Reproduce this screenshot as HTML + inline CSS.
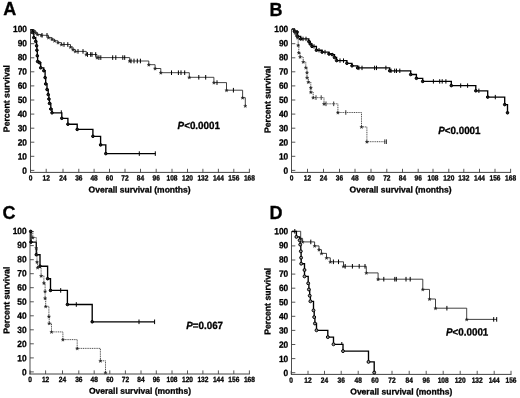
<!DOCTYPE html>
<html><head><meta charset="utf-8"><title>Survival curves</title>
<style>
html,body{margin:0;padding:0;background:#fff;}
svg{display:block;font-family:"Liberation Sans", sans-serif;fill:#000;}
text{stroke:#000;stroke-width:0.3px;}
</style></head>
<body>
<svg width="520" height="398" viewBox="0 0 520 398" font-family='"Liberation Sans", sans-serif'>
<defs><filter id="soft" x="0" y="0" width="520" height="398" filterUnits="userSpaceOnUse"><feGaussianBlur stdDeviation="0.42"/></filter></defs>
<rect x="0" y="0" width="520" height="398" fill="#fff"/>
<g filter="url(#soft)">
<text x="3.2" y="14.8" font-size="18" font-weight="bold">A</text><path d="M30.5,29.1V172.9" stroke="#444" stroke-width="0.95" fill="none"/><path d="M30.0,172.4H249.9" stroke="#444" stroke-width="1.0" fill="none"/><text transform="translate(27.00,173.75) rotate(0.1) scale(0.93,1)" text-anchor="end" font-size="9" font-weight="bold">0</text><text transform="translate(27.00,159.50) rotate(0.1) scale(0.93,1)" text-anchor="end" font-size="9" font-weight="bold">10</text><text transform="translate(27.00,145.50) rotate(0.1) scale(0.93,1)" text-anchor="end" font-size="9" font-weight="bold">20</text><text transform="translate(27.00,131.25) rotate(0.1) scale(0.93,1)" text-anchor="end" font-size="9" font-weight="bold">30</text><text transform="translate(27.00,117.00) rotate(0.1) scale(0.93,1)" text-anchor="end" font-size="9" font-weight="bold">40</text><text transform="translate(27.00,103.00) rotate(0.1) scale(0.93,1)" text-anchor="end" font-size="9" font-weight="bold">50</text><text transform="translate(27.00,88.75) rotate(0.1) scale(0.93,1)" text-anchor="end" font-size="9" font-weight="bold">60</text><text transform="translate(27.00,74.50) rotate(0.1) scale(0.93,1)" text-anchor="end" font-size="9" font-weight="bold">70</text><text transform="translate(27.00,60.25) rotate(0.1) scale(0.93,1)" text-anchor="end" font-size="9" font-weight="bold">80</text><text transform="translate(27.00,46.25) rotate(0.1) scale(0.93,1)" text-anchor="end" font-size="9" font-weight="bold">90</text><text transform="translate(27.00,32.00) rotate(0.1) scale(0.93,1)" text-anchor="end" font-size="9" font-weight="bold">100</text><text transform="translate(30.5,180.50) rotate(0.1) scale(0.87,1)" text-anchor="middle" font-size="7.6" font-weight="bold">0</text><text transform="translate(46.2,180.50) rotate(0.1) scale(0.87,1)" text-anchor="middle" font-size="7.6" font-weight="bold">12</text><text transform="translate(63.0,180.50) rotate(0.1) scale(0.87,1)" text-anchor="middle" font-size="7.6" font-weight="bold">24</text><text transform="translate(78.8,180.50) rotate(0.1) scale(0.87,1)" text-anchor="middle" font-size="7.6" font-weight="bold">36</text><text transform="translate(94.1,180.50) rotate(0.1) scale(0.87,1)" text-anchor="middle" font-size="7.6" font-weight="bold">48</text><text transform="translate(109.5,180.50) rotate(0.1) scale(0.87,1)" text-anchor="middle" font-size="7.6" font-weight="bold">60</text><text transform="translate(125.0,180.50) rotate(0.1) scale(0.87,1)" text-anchor="middle" font-size="7.6" font-weight="bold">72</text><text transform="translate(140.5,180.50) rotate(0.1) scale(0.87,1)" text-anchor="middle" font-size="7.6" font-weight="bold">84</text><text transform="translate(156.2,180.50) rotate(0.1) scale(0.87,1)" text-anchor="middle" font-size="7.6" font-weight="bold">96</text><text transform="translate(172.0,180.50) rotate(0.1) scale(0.87,1)" text-anchor="middle" font-size="7.6" font-weight="bold">108</text><text transform="translate(187.5,180.50) rotate(0.1) scale(0.87,1)" text-anchor="middle" font-size="7.6" font-weight="bold">120</text><text transform="translate(202.9,180.50) rotate(0.1) scale(0.87,1)" text-anchor="middle" font-size="7.6" font-weight="bold">132</text><text transform="translate(218.4,180.50) rotate(0.1) scale(0.87,1)" text-anchor="middle" font-size="7.6" font-weight="bold">144</text><text transform="translate(233.8,180.50) rotate(0.1) scale(0.87,1)" text-anchor="middle" font-size="7.6" font-weight="bold">156</text><text transform="translate(249.4,180.50) rotate(0.1) scale(0.87,1)" text-anchor="middle" font-size="7.6" font-weight="bold">168</text><path d="M30.5,170.4h3.8M30.5,156.3h3.8M30.5,142.2h3.8M30.5,128.2h3.8M30.5,114.1h3.8M30.5,100.0h3.8M30.5,85.9h3.8M30.5,71.8h3.8M30.5,57.8h3.8M30.5,43.7h3.8M30.5,29.6h3.8M30.5,172.4v-3.6M46.2,172.4v-3.6M63.0,172.4v-3.6M78.8,172.4v-3.6M94.1,172.4v-3.6M109.5,172.4v-3.6M125.0,172.4v-3.6M140.5,172.4v-3.6M156.2,172.4v-3.6M172.0,172.4v-3.6M187.5,172.4v-3.6M202.9,172.4v-3.6M218.4,172.4v-3.6M233.8,172.4v-3.6M249.4,172.4v-3.6" stroke="#444" stroke-width="0.9" fill="none"/><text transform="translate(139.6,192.50) rotate(0.1)" text-anchor="middle" font-size="8.5" font-weight="bold">Overall survival (months)</text><text transform="translate(9.5,98.6) rotate(-89.9)" text-anchor="middle" font-size="8.7" font-weight="bold">Percent survival</text><path d="M30.7,29.8H33.8V30.9H35.8V32.8H37.6V34.5H41.4V35.3H48.5V37.6H52.0V39.2H54.6V40.8H58.0V42.6H61.5V44.5H70.5V47.0H73.0V49.5H75.3V51.4H86.3V54.5H97.0V57.6H129.7V61.0H148.8V64.7H155.1V68.5H160.8V72.7H189.3V77.3H213.9V82.6H226.5V90.2H242.6V97.7H245.3V105.9" stroke="#222" stroke-width="0.85" fill="none"/><path d="M42.0,33.0V37.6M47.0,33.0V37.6M64.0,42.2V46.8M67.8,42.2V46.8M78.0,49.1V53.7M83.0,49.1V53.7M87.5,52.2V56.8M90.7,52.2V56.8M92.0,52.2V56.8M95.7,52.2V56.8M98.9,55.3V59.9M100.8,55.3V59.9M112.7,55.3V59.9M115.8,55.3V59.9M122.8,55.3V59.9M124.7,55.3V59.9M131.0,58.7V63.3M134.0,58.7V63.3M137.3,58.7V63.3M140.4,58.7V63.3M171.5,70.4V75.0M178.4,70.4V75.0M181.0,70.4V75.0M184.7,70.4V75.0M198.8,75.0V79.6M205.7,75.0V79.6M217.0,80.3V84.9M233.4,87.9V92.5" stroke="#000" stroke-width="1.0" fill="none"/><path d="M33.80,29.30L34.24,30.49L35.51,30.54L34.52,31.33L34.86,32.56L33.80,31.86L32.74,32.56L33.08,31.33L32.09,30.54L33.36,30.49ZM35.80,31.20L36.24,32.39L37.51,32.44L36.52,33.23L36.86,34.46L35.80,33.76L34.74,34.46L35.08,33.23L34.09,32.44L35.36,32.39ZM37.60,32.90L38.04,34.09L39.31,34.14L38.32,34.93L38.66,36.16L37.60,35.46L36.54,36.16L36.88,34.93L35.89,34.14L37.16,34.09ZM41.40,33.70L41.84,34.89L43.11,34.94L42.12,35.73L42.46,36.96L41.40,36.26L40.34,36.96L40.68,35.73L39.69,34.94L40.96,34.89ZM48.50,36.00L48.94,37.19L50.21,37.24L49.22,38.03L49.56,39.26L48.50,38.56L47.44,39.26L47.78,38.03L46.79,37.24L48.06,37.19ZM52.00,37.60L52.44,38.79L53.71,38.84L52.72,39.63L53.06,40.86L52.00,40.16L50.94,40.86L51.28,39.63L50.29,38.84L51.56,38.79ZM54.60,39.20L55.04,40.39L56.31,40.44L55.32,41.23L55.66,42.46L54.60,41.76L53.54,42.46L53.88,41.23L52.89,40.44L54.16,40.39ZM58.00,41.00L58.44,42.19L59.71,42.24L58.72,43.03L59.06,44.26L58.00,43.56L56.94,44.26L57.28,43.03L56.29,42.24L57.56,42.19ZM61.50,42.90L61.94,44.09L63.21,44.14L62.22,44.93L62.56,46.16L61.50,45.46L60.44,46.16L60.78,44.93L59.79,44.14L61.06,44.09ZM70.50,45.40L70.94,46.59L72.21,46.64L71.22,47.43L71.56,48.66L70.50,47.96L69.44,48.66L69.78,47.43L68.79,46.64L70.06,46.59ZM73.00,47.90L73.44,49.09L74.71,49.14L73.72,49.93L74.06,51.16L73.00,50.46L71.94,51.16L72.28,49.93L71.29,49.14L72.56,49.09ZM75.30,49.80L75.74,50.99L77.01,51.04L76.02,51.83L76.36,53.06L75.30,52.36L74.24,53.06L74.58,51.83L73.59,51.04L74.86,50.99ZM86.30,52.90L86.74,54.09L88.01,54.14L87.02,54.93L87.36,56.16L86.30,55.46L85.24,56.16L85.58,54.93L84.59,54.14L85.86,54.09ZM97.00,56.00L97.44,57.19L98.71,57.24L97.72,58.03L98.06,59.26L97.00,58.56L95.94,59.26L96.28,58.03L95.29,57.24L96.56,57.19ZM129.70,59.40L130.14,60.59L131.41,60.64L130.42,61.43L130.76,62.66L129.70,61.96L128.64,62.66L128.98,61.43L127.99,60.64L129.26,60.59ZM148.80,63.10L149.24,64.29L150.51,64.34L149.52,65.13L149.86,66.36L148.80,65.66L147.74,66.36L148.08,65.13L147.09,64.34L148.36,64.29ZM155.10,66.90L155.54,68.09L156.81,68.14L155.82,68.93L156.16,70.16L155.10,69.46L154.04,70.16L154.38,68.93L153.39,68.14L154.66,68.09ZM160.80,71.10L161.24,72.29L162.51,72.34L161.52,73.13L161.86,74.36L160.80,73.66L159.74,74.36L160.08,73.13L159.09,72.34L160.36,72.29ZM189.30,75.70L189.74,76.89L191.01,76.94L190.02,77.73L190.36,78.96L189.30,78.26L188.24,78.96L188.58,77.73L187.59,76.94L188.86,76.89ZM213.90,81.00L214.34,82.19L215.61,82.24L214.62,83.03L214.96,84.26L213.90,83.56L212.84,84.26L213.18,83.03L212.19,82.24L213.46,82.19ZM226.50,88.60L226.94,89.79L228.21,89.84L227.22,90.63L227.56,91.86L226.50,91.16L225.44,91.86L225.78,90.63L224.79,89.84L226.06,89.79ZM242.60,96.10L243.04,97.29L244.31,97.34L243.32,98.13L243.66,99.36L242.60,98.66L241.54,99.36L241.88,98.13L240.89,97.34L242.16,97.29ZM245.30,104.30L245.74,105.49L247.01,105.54L246.02,106.33L246.36,107.56L245.30,106.86L244.24,107.56L244.58,106.33L243.59,105.54L244.86,105.49Z" fill="#222" stroke="#222" stroke-width="0.3"/><path d="M30.7,29.8H32.5V32.5H33.8V37.6H35.7V41.4H36.6V45.8H36.9V50.2H37.3V55.8H37.6V61.5H39.5V62.7H40.7V67.8H43.8V70.7H45.1V77.6H45.7V83.9H47.0V89.5H48.2V94.6H48.9V99.0H49.5V103.4H50.8V109.0H52.0V112.8H61.8V118.3H67.9V124.2H77.2V129.4H92.9V136.3H100.6V144.9H105.8V153.6H155.5V153.6" stroke="#000" stroke-width="1.35" fill="none" stroke-linejoin="miter"/><path d="M139.3,151.3V155.9M155.3,151.3V155.9" stroke="#000" stroke-width="1.0" fill="none"/><path d="M61.3,110.3V113" stroke="#000" stroke-width="1"/><circle cx="32.5" cy="32.5" r="1.3" fill="#222" stroke="#000" stroke-width="1"/><circle cx="33.8" cy="37.6" r="1.3" fill="#222" stroke="#000" stroke-width="1"/><circle cx="35.7" cy="41.4" r="1.3" fill="#222" stroke="#000" stroke-width="1"/><circle cx="36.6" cy="45.8" r="1.3" fill="#222" stroke="#000" stroke-width="1"/><circle cx="36.9" cy="50.2" r="1.3" fill="#222" stroke="#000" stroke-width="1"/><circle cx="37.3" cy="55.8" r="1.3" fill="#222" stroke="#000" stroke-width="1"/><circle cx="37.6" cy="61.5" r="1.3" fill="#222" stroke="#000" stroke-width="1"/><circle cx="39.5" cy="62.7" r="1.3" fill="#222" stroke="#000" stroke-width="1"/><circle cx="40.7" cy="67.8" r="1.3" fill="#222" stroke="#000" stroke-width="1"/><circle cx="43.8" cy="70.7" r="1.3" fill="#222" stroke="#000" stroke-width="1"/><circle cx="45.1" cy="77.6" r="1.3" fill="#222" stroke="#000" stroke-width="1"/><circle cx="45.7" cy="83.9" r="1.3" fill="#222" stroke="#000" stroke-width="1"/><circle cx="47.0" cy="89.5" r="1.3" fill="#222" stroke="#000" stroke-width="1"/><circle cx="48.2" cy="94.6" r="1.3" fill="#222" stroke="#000" stroke-width="1"/><circle cx="48.9" cy="99.0" r="1.3" fill="#222" stroke="#000" stroke-width="1"/><circle cx="49.5" cy="103.4" r="1.3" fill="#222" stroke="#000" stroke-width="1"/><circle cx="50.8" cy="109.0" r="1.3" fill="#222" stroke="#000" stroke-width="1"/><circle cx="52.0" cy="112.8" r="1.3" fill="#222" stroke="#000" stroke-width="1"/><circle cx="61.8" cy="118.3" r="1.3" fill="#222" stroke="#000" stroke-width="1"/><circle cx="67.9" cy="124.2" r="1.3" fill="#222" stroke="#000" stroke-width="1"/><circle cx="77.2" cy="129.4" r="1.3" fill="#222" stroke="#000" stroke-width="1"/><circle cx="92.9" cy="136.3" r="1.3" fill="#222" stroke="#000" stroke-width="1"/><circle cx="100.6" cy="144.9" r="1.3" fill="#222" stroke="#000" stroke-width="1"/><circle cx="105.8" cy="153.6" r="1.3" fill="#222" stroke="#000" stroke-width="1"/><text transform="translate(177.6,129.0) rotate(0.1) scale(0.945,1)" font-size="10.4" font-weight="bold"><tspan font-style="italic">P</tspan>&lt;0.0001</text><text x="269.4" y="16.1" font-size="18" font-weight="bold">B</text><path d="M291.5,29.1V172.9" stroke="#444" stroke-width="0.95" fill="none"/><path d="M291.0,172.4H511.1" stroke="#444" stroke-width="1.0" fill="none"/><text transform="translate(288.25,173.75) rotate(0.1) scale(0.93,1)" text-anchor="end" font-size="9" font-weight="bold">0</text><text transform="translate(288.25,159.50) rotate(0.1) scale(0.93,1)" text-anchor="end" font-size="9" font-weight="bold">10</text><text transform="translate(288.25,145.50) rotate(0.1) scale(0.93,1)" text-anchor="end" font-size="9" font-weight="bold">20</text><text transform="translate(288.25,131.25) rotate(0.1) scale(0.93,1)" text-anchor="end" font-size="9" font-weight="bold">30</text><text transform="translate(288.25,117.00) rotate(0.1) scale(0.93,1)" text-anchor="end" font-size="9" font-weight="bold">40</text><text transform="translate(288.25,103.00) rotate(0.1) scale(0.93,1)" text-anchor="end" font-size="9" font-weight="bold">50</text><text transform="translate(288.25,88.75) rotate(0.1) scale(0.93,1)" text-anchor="end" font-size="9" font-weight="bold">60</text><text transform="translate(288.25,74.50) rotate(0.1) scale(0.93,1)" text-anchor="end" font-size="9" font-weight="bold">70</text><text transform="translate(288.25,60.25) rotate(0.1) scale(0.93,1)" text-anchor="end" font-size="9" font-weight="bold">80</text><text transform="translate(288.25,46.25) rotate(0.1) scale(0.93,1)" text-anchor="end" font-size="9" font-weight="bold">90</text><text transform="translate(288.25,32.00) rotate(0.1) scale(0.93,1)" text-anchor="end" font-size="9" font-weight="bold">100</text><text transform="translate(291.5,180.50) rotate(0.1) scale(0.87,1)" text-anchor="middle" font-size="7.6" font-weight="bold">0</text><text transform="translate(307.5,180.50) rotate(0.1) scale(0.87,1)" text-anchor="middle" font-size="7.6" font-weight="bold">12</text><text transform="translate(323.5,180.50) rotate(0.1) scale(0.87,1)" text-anchor="middle" font-size="7.6" font-weight="bold">24</text><text transform="translate(339.5,180.50) rotate(0.1) scale(0.87,1)" text-anchor="middle" font-size="7.6" font-weight="bold">36</text><text transform="translate(355.0,180.50) rotate(0.1) scale(0.87,1)" text-anchor="middle" font-size="7.6" font-weight="bold">48</text><text transform="translate(371.0,180.50) rotate(0.1) scale(0.87,1)" text-anchor="middle" font-size="7.6" font-weight="bold">60</text><text transform="translate(386.8,180.50) rotate(0.1) scale(0.87,1)" text-anchor="middle" font-size="7.6" font-weight="bold">72</text><text transform="translate(402.5,180.50) rotate(0.1) scale(0.87,1)" text-anchor="middle" font-size="7.6" font-weight="bold">84</text><text transform="translate(418.2,180.50) rotate(0.1) scale(0.87,1)" text-anchor="middle" font-size="7.6" font-weight="bold">96</text><text transform="translate(433.0,180.50) rotate(0.1) scale(0.87,1)" text-anchor="middle" font-size="7.6" font-weight="bold">108</text><text transform="translate(448.8,180.50) rotate(0.1) scale(0.87,1)" text-anchor="middle" font-size="7.6" font-weight="bold">120</text><text transform="translate(463.8,180.50) rotate(0.1) scale(0.87,1)" text-anchor="middle" font-size="7.6" font-weight="bold">132</text><text transform="translate(479.5,180.50) rotate(0.1) scale(0.87,1)" text-anchor="middle" font-size="7.6" font-weight="bold">144</text><text transform="translate(495.0,180.50) rotate(0.1) scale(0.87,1)" text-anchor="middle" font-size="7.6" font-weight="bold">156</text><text transform="translate(510.6,180.50) rotate(0.1) scale(0.87,1)" text-anchor="middle" font-size="7.6" font-weight="bold">168</text><path d="M291.5,170.4h3.8M291.5,156.3h3.8M291.5,142.2h3.8M291.5,128.2h3.8M291.5,114.1h3.8M291.5,100.0h3.8M291.5,85.9h3.8M291.5,71.8h3.8M291.5,57.8h3.8M291.5,43.7h3.8M291.5,29.6h3.8M291.5,172.4v-3.6M307.5,172.4v-3.6M323.5,172.4v-3.6M339.5,172.4v-3.6M355.0,172.4v-3.6M371.0,172.4v-3.6M386.8,172.4v-3.6M402.5,172.4v-3.6M418.2,172.4v-3.6M433.0,172.4v-3.6M448.8,172.4v-3.6M463.8,172.4v-3.6M479.5,172.4v-3.6M495.0,172.4v-3.6M510.6,172.4v-3.6" stroke="#444" stroke-width="0.9" fill="none"/><text transform="translate(400.6,192.50) rotate(0.1)" text-anchor="middle" font-size="8.5" font-weight="bold">Overall survival (months)</text><text transform="translate(270.5,99.5) rotate(-89.9)" text-anchor="middle" font-size="8.7" font-weight="bold">Percent survival</text><path d="M291.9,28.8H294.4V31.3H297.0V32.0H297.6V36.4H300.7V38.9H308.8V41.5H310.2V43.9H312.0V46.4H316.4V50.2H322.1V52.1H329.0V54.0H332.2V54.6H334.5V57.5H336.6V60.6H346.9V63.3H352.0V65.8H357.6V67.9H389.7V70.8H410.7V74.5H416.4V78.3H422.7V81.4H451.3V85.6H475.8V90.8H487.7V97.1H504.7V104.6H507.5V112.8" stroke="#000" stroke-width="1.35" fill="none"/><path d="M303.0,36.7V41.1M306.0,36.7V41.1M314.0,44.2V48.6M319.0,48.0V52.4M325.0,49.9V54.3M340.0,58.4V62.8M343.5,58.4V62.8M358.9,65.7V70.1M362.0,65.7V70.1M374.6,65.7V70.1M376.5,65.7V70.1M385.9,65.7V70.1M391.0,68.6V73.0M394.7,68.6V73.0M396.5,68.6V73.0M399.8,68.6V73.0M433.4,79.2V83.6M439.7,79.2V83.6M442.2,79.2V83.6M445.9,79.2V83.6M460.7,83.4V87.8M467.6,83.4V87.8M478.9,88.6V93.0M495.3,94.9V99.3" stroke="#000" stroke-width="1.0" fill="none"/><circle cx="294.4" cy="31.3" r="1.3" fill="#222" stroke="#000" stroke-width="1"/><circle cx="297.0" cy="32.0" r="1.3" fill="#222" stroke="#000" stroke-width="1"/><circle cx="297.6" cy="36.4" r="1.3" fill="#222" stroke="#000" stroke-width="1"/><circle cx="300.7" cy="38.9" r="1.3" fill="#222" stroke="#000" stroke-width="1"/><circle cx="308.8" cy="41.5" r="1.3" fill="#222" stroke="#000" stroke-width="1"/><circle cx="310.2" cy="43.9" r="1.3" fill="#222" stroke="#000" stroke-width="1"/><circle cx="312.0" cy="46.4" r="1.3" fill="#222" stroke="#000" stroke-width="1"/><circle cx="316.4" cy="50.2" r="1.3" fill="#222" stroke="#000" stroke-width="1"/><circle cx="322.1" cy="52.1" r="1.3" fill="#222" stroke="#000" stroke-width="1"/><circle cx="329.0" cy="54.0" r="1.3" fill="#222" stroke="#000" stroke-width="1"/><circle cx="332.2" cy="54.6" r="1.3" fill="#222" stroke="#000" stroke-width="1"/><circle cx="334.5" cy="57.5" r="1.3" fill="#222" stroke="#000" stroke-width="1"/><circle cx="336.6" cy="60.6" r="1.3" fill="#222" stroke="#000" stroke-width="1"/><circle cx="346.9" cy="63.3" r="1.3" fill="#222" stroke="#000" stroke-width="1"/><circle cx="352.0" cy="65.8" r="1.3" fill="#222" stroke="#000" stroke-width="1"/><circle cx="357.6" cy="67.9" r="1.3" fill="#222" stroke="#000" stroke-width="1"/><circle cx="389.7" cy="70.8" r="1.3" fill="#222" stroke="#000" stroke-width="1"/><circle cx="410.7" cy="74.5" r="1.3" fill="#222" stroke="#000" stroke-width="1"/><circle cx="416.4" cy="78.3" r="1.3" fill="#222" stroke="#000" stroke-width="1"/><circle cx="422.7" cy="81.4" r="1.3" fill="#222" stroke="#000" stroke-width="1"/><circle cx="451.3" cy="85.6" r="1.3" fill="#222" stroke="#000" stroke-width="1"/><circle cx="475.8" cy="90.8" r="1.3" fill="#222" stroke="#000" stroke-width="1"/><circle cx="487.7" cy="97.1" r="1.3" fill="#222" stroke="#000" stroke-width="1"/><circle cx="504.7" cy="104.6" r="1.3" fill="#222" stroke="#000" stroke-width="1"/><circle cx="507.5" cy="112.8" r="1.3" fill="#222" stroke="#000" stroke-width="1"/><path d="M291.9,28.8H295.0V32.6H296.3V35.0H297.6V37.6H298.2V45.2H298.8V52.7H300.1V56.9H303.2V61.9H305.8V67.6H307.0V72.6H307.0V77.6H308.3V82.0H310.8V87.7H310.8V92.1H313.2V97.6H324.0V103.8H337.9V112.5H361.5V126.9H366.9V141.7H386.2V141.7" stroke="#333" stroke-width="0.85" stroke-dasharray="1.1 0.7" fill="none"/><path d="M316.0,95.3V99.9M321.2,95.3V99.9M326.0,101.5V106.1M333.7,101.5V106.1M345.8,110.2V114.8M384.8,139.4V144.0M386.4,139.4V144.0" stroke="#333" stroke-width="1.0" fill="none"/><path d="M295.00,31.00L295.44,32.19L296.71,32.24L295.72,33.03L296.06,34.26L295.00,33.56L293.94,34.26L294.28,33.03L293.29,32.24L294.56,32.19ZM296.30,33.40L296.74,34.59L298.01,34.64L297.02,35.43L297.36,36.66L296.30,35.96L295.24,36.66L295.58,35.43L294.59,34.64L295.86,34.59ZM297.60,36.00L298.04,37.19L299.31,37.24L298.32,38.03L298.66,39.26L297.60,38.56L296.54,39.26L296.88,38.03L295.89,37.24L297.16,37.19ZM298.20,43.60L298.64,44.79L299.91,44.84L298.92,45.63L299.26,46.86L298.20,46.16L297.14,46.86L297.48,45.63L296.49,44.84L297.76,44.79ZM298.80,51.10L299.24,52.29L300.51,52.34L299.52,53.13L299.86,54.36L298.80,53.66L297.74,54.36L298.08,53.13L297.09,52.34L298.36,52.29ZM300.10,55.30L300.54,56.49L301.81,56.54L300.82,57.33L301.16,58.56L300.10,57.86L299.04,58.56L299.38,57.33L298.39,56.54L299.66,56.49ZM303.20,60.30L303.64,61.49L304.91,61.54L303.92,62.33L304.26,63.56L303.20,62.86L302.14,63.56L302.48,62.33L301.49,61.54L302.76,61.49ZM305.80,66.00L306.24,67.19L307.51,67.24L306.52,68.03L306.86,69.26L305.80,68.56L304.74,69.26L305.08,68.03L304.09,67.24L305.36,67.19ZM307.00,71.00L307.44,72.19L308.71,72.24L307.72,73.03L308.06,74.26L307.00,73.56L305.94,74.26L306.28,73.03L305.29,72.24L306.56,72.19ZM307.00,76.00L307.44,77.19L308.71,77.24L307.72,78.03L308.06,79.26L307.00,78.56L305.94,79.26L306.28,78.03L305.29,77.24L306.56,77.19ZM308.30,80.40L308.74,81.59L310.01,81.64L309.02,82.43L309.36,83.66L308.30,82.96L307.24,83.66L307.58,82.43L306.59,81.64L307.86,81.59ZM310.80,86.10L311.24,87.29L312.51,87.34L311.52,88.13L311.86,89.36L310.80,88.66L309.74,89.36L310.08,88.13L309.09,87.34L310.36,87.29ZM310.80,90.50L311.24,91.69L312.51,91.74L311.52,92.53L311.86,93.76L310.80,93.06L309.74,93.76L310.08,92.53L309.09,91.74L310.36,91.69ZM313.20,96.00L313.64,97.19L314.91,97.24L313.92,98.03L314.26,99.26L313.20,98.56L312.14,99.26L312.48,98.03L311.49,97.24L312.76,97.19ZM324.00,102.20L324.44,103.39L325.71,103.44L324.72,104.23L325.06,105.46L324.00,104.76L322.94,105.46L323.28,104.23L322.29,103.44L323.56,103.39ZM337.90,110.90L338.34,112.09L339.61,112.14L338.62,112.93L338.96,114.16L337.90,113.46L336.84,114.16L337.18,112.93L336.19,112.14L337.46,112.09ZM361.50,125.30L361.94,126.49L363.21,126.54L362.22,127.33L362.56,128.56L361.50,127.86L360.44,128.56L360.78,127.33L359.79,126.54L361.06,126.49ZM366.90,140.10L367.34,141.29L368.61,141.34L367.62,142.13L367.96,143.36L366.90,142.66L365.84,143.36L366.18,142.13L365.19,141.34L366.46,141.29Z" fill="#222" stroke="#222" stroke-width="0.3"/><text transform="translate(438.2,134.0) rotate(0.1) scale(0.945,1)" font-size="10.4" font-weight="bold"><tspan font-style="italic">P</tspan>&lt;0.0001</text><text x="2.4" y="219.0" font-size="18" font-weight="bold">C</text><path d="M30.0,231.1V374.5" stroke="#444" stroke-width="0.95" fill="none"/><path d="M29.5,374.0H249.9" stroke="#444" stroke-width="1.0" fill="none"/><text transform="translate(26.65,375.25) rotate(0.1) scale(0.93,1)" text-anchor="end" font-size="9" font-weight="bold">0</text><text transform="translate(26.65,361.25) rotate(0.1) scale(0.93,1)" text-anchor="end" font-size="9" font-weight="bold">10</text><text transform="translate(26.65,347.00) rotate(0.1) scale(0.93,1)" text-anchor="end" font-size="9" font-weight="bold">20</text><text transform="translate(26.65,333.00) rotate(0.1) scale(0.93,1)" text-anchor="end" font-size="9" font-weight="bold">30</text><text transform="translate(26.65,318.75) rotate(0.1) scale(0.93,1)" text-anchor="end" font-size="9" font-weight="bold">40</text><text transform="translate(26.65,304.75) rotate(0.1) scale(0.93,1)" text-anchor="end" font-size="9" font-weight="bold">50</text><text transform="translate(26.65,290.50) rotate(0.1) scale(0.93,1)" text-anchor="end" font-size="9" font-weight="bold">60</text><text transform="translate(26.65,276.25) rotate(0.1) scale(0.93,1)" text-anchor="end" font-size="9" font-weight="bold">70</text><text transform="translate(26.65,262.25) rotate(0.1) scale(0.93,1)" text-anchor="end" font-size="9" font-weight="bold">80</text><text transform="translate(26.65,248.00) rotate(0.1) scale(0.93,1)" text-anchor="end" font-size="9" font-weight="bold">90</text><text transform="translate(26.65,234.00) rotate(0.1) scale(0.93,1)" text-anchor="end" font-size="9" font-weight="bold">100</text><text transform="translate(30.0,382.00) rotate(0.1) scale(0.87,1)" text-anchor="middle" font-size="7.6" font-weight="bold">0</text><text transform="translate(45.6,382.00) rotate(0.1) scale(0.87,1)" text-anchor="middle" font-size="7.6" font-weight="bold">12</text><text transform="translate(62.5,382.00) rotate(0.1) scale(0.87,1)" text-anchor="middle" font-size="7.6" font-weight="bold">24</text><text transform="translate(78.8,382.00) rotate(0.1) scale(0.87,1)" text-anchor="middle" font-size="7.6" font-weight="bold">36</text><text transform="translate(94.2,382.00) rotate(0.1) scale(0.87,1)" text-anchor="middle" font-size="7.6" font-weight="bold">48</text><text transform="translate(109.8,382.00) rotate(0.1) scale(0.87,1)" text-anchor="middle" font-size="7.6" font-weight="bold">60</text><text transform="translate(125.4,382.00) rotate(0.1) scale(0.87,1)" text-anchor="middle" font-size="7.6" font-weight="bold">72</text><text transform="translate(141.0,382.00) rotate(0.1) scale(0.87,1)" text-anchor="middle" font-size="7.6" font-weight="bold">84</text><text transform="translate(156.3,382.00) rotate(0.1) scale(0.87,1)" text-anchor="middle" font-size="7.6" font-weight="bold">96</text><text transform="translate(172.0,382.00) rotate(0.1) scale(0.87,1)" text-anchor="middle" font-size="7.6" font-weight="bold">108</text><text transform="translate(187.5,382.00) rotate(0.1) scale(0.87,1)" text-anchor="middle" font-size="7.6" font-weight="bold">120</text><text transform="translate(202.9,382.00) rotate(0.1) scale(0.87,1)" text-anchor="middle" font-size="7.6" font-weight="bold">132</text><text transform="translate(218.4,382.00) rotate(0.1) scale(0.87,1)" text-anchor="middle" font-size="7.6" font-weight="bold">144</text><text transform="translate(233.8,382.00) rotate(0.1) scale(0.87,1)" text-anchor="middle" font-size="7.6" font-weight="bold">156</text><text transform="translate(249.4,382.00) rotate(0.1) scale(0.87,1)" text-anchor="middle" font-size="7.6" font-weight="bold">168</text><path d="M30.0,371.9h3.8M30.0,357.9h3.8M30.0,343.8h3.8M30.0,329.8h3.8M30.0,315.8h3.8M30.0,301.8h3.8M30.0,287.7h3.8M30.0,273.7h3.8M30.0,259.7h3.8M30.0,245.6h3.8M30.0,231.6h3.8M30.0,374.0v-3.6M45.6,374.0v-3.6M62.5,374.0v-3.6M78.8,374.0v-3.6M94.2,374.0v-3.6M109.8,374.0v-3.6M125.4,374.0v-3.6M141.0,374.0v-3.6M156.3,374.0v-3.6M172.0,374.0v-3.6M187.5,374.0v-3.6M202.9,374.0v-3.6M218.4,374.0v-3.6M233.8,374.0v-3.6M249.4,374.0v-3.6" stroke="#444" stroke-width="0.9" fill="none"/><text transform="translate(140.0,393.75) rotate(0.1)" text-anchor="middle" font-size="8.5" font-weight="bold">Overall survival (months)</text><text transform="translate(9.5,300.2) rotate(-89.9)" text-anchor="middle" font-size="8.7" font-weight="bold">Percent survival</text><path d="M30.7,231.4H31.0V242.1H36.3V254.7H40.0V266.2H47.6V278.7H50.5V290.4H67.4V304.5H92.2V321.8H154.8V321.8" stroke="#000" stroke-width="1.35" fill="none"/><path d="M60.7,288.1V292.7M76.3,302.2V306.8M139.0,319.5V324.1M154.6,319.5V324.1" stroke="#000" stroke-width="1.0" fill="none"/><circle cx="30.7" cy="231.4" r="1.3" fill="#222" stroke="#000" stroke-width="1"/><circle cx="31.0" cy="242.1" r="1.3" fill="#222" stroke="#000" stroke-width="1"/><circle cx="36.3" cy="254.7" r="1.3" fill="#222" stroke="#000" stroke-width="1"/><circle cx="40.0" cy="266.2" r="1.3" fill="#222" stroke="#000" stroke-width="1"/><circle cx="47.6" cy="278.7" r="1.3" fill="#222" stroke="#000" stroke-width="1"/><circle cx="50.5" cy="290.4" r="1.3" fill="#222" stroke="#000" stroke-width="1"/><circle cx="67.4" cy="304.5" r="1.3" fill="#222" stroke="#000" stroke-width="1"/><circle cx="92.2" cy="321.8" r="1.3" fill="#222" stroke="#000" stroke-width="1"/><path d="M30.7,231.4H32.8V237.5H36.3V248.0H37.0V262.0H37.6V267.6H41.1V275.8H43.9V283.0H45.1V291.3H45.1V298.2H45.7V306.4H48.9V316.5H49.2V323.3H51.5V331.9H62.9V339.6H77.2V348.4H100.4V360.8H105.5V372.6" stroke="#333" stroke-width="0.85" stroke-dasharray="1.1 0.7" fill="none"/><path d="M32.80,235.90L33.24,237.09L34.51,237.14L33.52,237.93L33.86,239.16L32.80,238.46L31.74,239.16L32.08,237.93L31.09,237.14L32.36,237.09ZM36.30,246.40L36.74,247.59L38.01,247.64L37.02,248.43L37.36,249.66L36.30,248.96L35.24,249.66L35.58,248.43L34.59,247.64L35.86,247.59ZM37.00,260.40L37.44,261.59L38.71,261.64L37.72,262.43L38.06,263.66L37.00,262.96L35.94,263.66L36.28,262.43L35.29,261.64L36.56,261.59ZM37.60,266.00L38.04,267.19L39.31,267.24L38.32,268.03L38.66,269.26L37.60,268.56L36.54,269.26L36.88,268.03L35.89,267.24L37.16,267.19ZM41.10,274.20L41.54,275.39L42.81,275.44L41.82,276.23L42.16,277.46L41.10,276.76L40.04,277.46L40.38,276.23L39.39,275.44L40.66,275.39ZM43.90,281.40L44.34,282.59L45.61,282.64L44.62,283.43L44.96,284.66L43.90,283.96L42.84,284.66L43.18,283.43L42.19,282.64L43.46,282.59ZM45.10,289.70L45.54,290.89L46.81,290.94L45.82,291.73L46.16,292.96L45.10,292.26L44.04,292.96L44.38,291.73L43.39,290.94L44.66,290.89ZM45.10,296.60L45.54,297.79L46.81,297.84L45.82,298.63L46.16,299.86L45.10,299.16L44.04,299.86L44.38,298.63L43.39,297.84L44.66,297.79ZM45.70,304.80L46.14,305.99L47.41,306.04L46.42,306.83L46.76,308.06L45.70,307.36L44.64,308.06L44.98,306.83L43.99,306.04L45.26,305.99ZM48.90,314.90L49.34,316.09L50.61,316.14L49.62,316.93L49.96,318.16L48.90,317.46L47.84,318.16L48.18,316.93L47.19,316.14L48.46,316.09ZM49.20,321.70L49.64,322.89L50.91,322.94L49.92,323.73L50.26,324.96L49.20,324.26L48.14,324.96L48.48,323.73L47.49,322.94L48.76,322.89ZM51.50,330.30L51.94,331.49L53.21,331.54L52.22,332.33L52.56,333.56L51.50,332.86L50.44,333.56L50.78,332.33L49.79,331.54L51.06,331.49ZM62.90,338.00L63.34,339.19L64.61,339.24L63.62,340.03L63.96,341.26L62.90,340.56L61.84,341.26L62.18,340.03L61.19,339.24L62.46,339.19ZM77.20,346.80L77.64,347.99L78.91,348.04L77.92,348.83L78.26,350.06L77.20,349.36L76.14,350.06L76.48,348.83L75.49,348.04L76.76,347.99ZM100.40,359.20L100.84,360.39L102.11,360.44L101.12,361.23L101.46,362.46L100.40,361.76L99.34,362.46L99.68,361.23L98.69,360.44L99.96,360.39ZM105.50,371.00L105.94,372.19L107.21,372.24L106.22,373.03L106.56,374.26L105.50,373.56L104.44,374.26L104.78,373.03L103.79,372.24L105.06,372.19Z" fill="#222" stroke="#222" stroke-width="0.3"/><text transform="translate(186.2,329.0) rotate(0.1) scale(0.945,1)" font-size="10.4" font-weight="bold"><tspan font-style="italic">P</tspan>=0.067</text><text x="269.4" y="219.0" font-size="18" font-weight="bold">D</text><path d="M291.5,231.3V374.9" stroke="#444" stroke-width="0.95" fill="none"/><path d="M291.0,374.4H511.5" stroke="#444" stroke-width="1.0" fill="none"/><text transform="translate(288.25,376.00) rotate(0.1) scale(0.93,1)" text-anchor="end" font-size="9" font-weight="bold">0</text><text transform="translate(288.25,362.00) rotate(0.1) scale(0.93,1)" text-anchor="end" font-size="9" font-weight="bold">10</text><text transform="translate(288.25,347.75) rotate(0.1) scale(0.93,1)" text-anchor="end" font-size="9" font-weight="bold">20</text><text transform="translate(288.25,333.50) rotate(0.1) scale(0.93,1)" text-anchor="end" font-size="9" font-weight="bold">30</text><text transform="translate(288.25,319.25) rotate(0.1) scale(0.93,1)" text-anchor="end" font-size="9" font-weight="bold">40</text><text transform="translate(288.25,305.25) rotate(0.1) scale(0.93,1)" text-anchor="end" font-size="9" font-weight="bold">50</text><text transform="translate(288.25,291.00) rotate(0.1) scale(0.93,1)" text-anchor="end" font-size="9" font-weight="bold">60</text><text transform="translate(288.25,276.75) rotate(0.1) scale(0.93,1)" text-anchor="end" font-size="9" font-weight="bold">70</text><text transform="translate(288.25,262.50) rotate(0.1) scale(0.93,1)" text-anchor="end" font-size="9" font-weight="bold">80</text><text transform="translate(288.25,248.25) rotate(0.1) scale(0.93,1)" text-anchor="end" font-size="9" font-weight="bold">90</text><text transform="translate(288.25,234.25) rotate(0.1) scale(0.93,1)" text-anchor="end" font-size="9" font-weight="bold">100</text><text transform="translate(291.2,382.75) rotate(0.1) scale(0.87,1)" text-anchor="middle" font-size="7.6" font-weight="bold">0</text><text transform="translate(308.0,382.75) rotate(0.1) scale(0.87,1)" text-anchor="middle" font-size="7.6" font-weight="bold">12</text><text transform="translate(324.5,382.75) rotate(0.1) scale(0.87,1)" text-anchor="middle" font-size="7.6" font-weight="bold">24</text><text transform="translate(341.2,382.75) rotate(0.1) scale(0.87,1)" text-anchor="middle" font-size="7.6" font-weight="bold">36</text><text transform="translate(358.2,382.75) rotate(0.1) scale(0.87,1)" text-anchor="middle" font-size="7.6" font-weight="bold">48</text><text transform="translate(375.0,382.75) rotate(0.1) scale(0.87,1)" text-anchor="middle" font-size="7.6" font-weight="bold">60</text><text transform="translate(392.0,382.75) rotate(0.1) scale(0.87,1)" text-anchor="middle" font-size="7.6" font-weight="bold">72</text><text transform="translate(409.2,382.75) rotate(0.1) scale(0.87,1)" text-anchor="middle" font-size="7.6" font-weight="bold">84</text><text transform="translate(426.2,382.75) rotate(0.1) scale(0.87,1)" text-anchor="middle" font-size="7.6" font-weight="bold">96</text><text transform="translate(443.2,382.75) rotate(0.1) scale(0.87,1)" text-anchor="middle" font-size="7.6" font-weight="bold">108</text><text transform="translate(460.2,382.75) rotate(0.1) scale(0.87,1)" text-anchor="middle" font-size="7.6" font-weight="bold">120</text><text transform="translate(477.2,382.75) rotate(0.1) scale(0.87,1)" text-anchor="middle" font-size="7.6" font-weight="bold">132</text><text transform="translate(494.2,382.75) rotate(0.1) scale(0.87,1)" text-anchor="middle" font-size="7.6" font-weight="bold">144</text><text transform="translate(511.0,382.75) rotate(0.1) scale(0.87,1)" text-anchor="middle" font-size="7.6" font-weight="bold">156</text><path d="M291.5,372.7h3.8M291.5,358.6h3.8M291.5,344.5h3.8M291.5,330.4h3.8M291.5,316.3h3.8M291.5,302.2h3.8M291.5,288.2h3.8M291.5,274.1h3.8M291.5,260.0h3.8M291.5,245.9h3.8M291.5,231.8h3.8M291.2,374.4v-3.6M308.0,374.4v-3.6M324.5,374.4v-3.6M341.2,374.4v-3.6M358.2,374.4v-3.6M375.0,374.4v-3.6M392.0,374.4v-3.6M409.2,374.4v-3.6M426.2,374.4v-3.6M443.2,374.4v-3.6M460.2,374.4v-3.6M477.2,374.4v-3.6M494.2,374.4v-3.6M511.0,374.4v-3.6" stroke="#444" stroke-width="0.9" fill="none"/><text transform="translate(401.3,394.50) rotate(0.1)" text-anchor="middle" font-size="8.5" font-weight="bold">Overall survival (months)</text><text transform="translate(270.5,301.3) rotate(-89.9)" text-anchor="middle" font-size="8.7" font-weight="bold">Percent survival</text><path d="M291.9,231.3H300.7V238.6H302.6V241.9H314.6V245.9H319.0V249.7H321.5V253.4H326.5V257.8H330.3V261.8H343.5V266.3H366.3V272.9H378.1V279.2H422.8V289.4H429.5V299.0H435.5V308.2H466.7V319.4H496.9V319.4" stroke="#222" stroke-width="0.85" fill="none"/><path d="M294.8,229.0V233.6M310.8,239.6V244.2M333.4,259.5V264.1M338.5,259.5V264.1M345.2,264.0V268.6M352.4,264.0V268.6M359.2,264.0V268.6M365.0,264.0V268.6M383.8,276.9V281.5M394.8,276.9V281.5M396.3,276.9V281.5M406.0,276.9V281.5M410.2,276.9V281.5M446.9,305.9V310.5M493.7,317.1V321.7M496.7,317.1V321.7" stroke="#000" stroke-width="1.0" fill="none"/><path d="M300.70,237.00L301.14,238.19L302.41,238.24L301.42,239.03L301.76,240.26L300.70,239.56L299.64,240.26L299.98,239.03L298.99,238.24L300.26,238.19ZM302.60,240.30L303.04,241.49L304.31,241.54L303.32,242.33L303.66,243.56L302.60,242.86L301.54,243.56L301.88,242.33L300.89,241.54L302.16,241.49ZM314.60,244.30L315.04,245.49L316.31,245.54L315.32,246.33L315.66,247.56L314.60,246.86L313.54,247.56L313.88,246.33L312.89,245.54L314.16,245.49ZM319.00,248.10L319.44,249.29L320.71,249.34L319.72,250.13L320.06,251.36L319.00,250.66L317.94,251.36L318.28,250.13L317.29,249.34L318.56,249.29ZM321.50,251.80L321.94,252.99L323.21,253.04L322.22,253.83L322.56,255.06L321.50,254.36L320.44,255.06L320.78,253.83L319.79,253.04L321.06,252.99ZM326.50,256.20L326.94,257.39L328.21,257.44L327.22,258.23L327.56,259.46L326.50,258.76L325.44,259.46L325.78,258.23L324.79,257.44L326.06,257.39ZM330.30,260.20L330.74,261.39L332.01,261.44L331.02,262.23L331.36,263.46L330.30,262.76L329.24,263.46L329.58,262.23L328.59,261.44L329.86,261.39ZM343.50,264.70L343.94,265.89L345.21,265.94L344.22,266.73L344.56,267.96L343.50,267.26L342.44,267.96L342.78,266.73L341.79,265.94L343.06,265.89ZM366.30,271.30L366.74,272.49L368.01,272.54L367.02,273.33L367.36,274.56L366.30,273.86L365.24,274.56L365.58,273.33L364.59,272.54L365.86,272.49ZM378.10,277.60L378.54,278.79L379.81,278.84L378.82,279.63L379.16,280.86L378.10,280.16L377.04,280.86L377.38,279.63L376.39,278.84L377.66,278.79ZM422.80,287.80L423.24,288.99L424.51,289.04L423.52,289.83L423.86,291.06L422.80,290.36L421.74,291.06L422.08,289.83L421.09,289.04L422.36,288.99ZM429.50,297.40L429.94,298.59L431.21,298.64L430.22,299.43L430.56,300.66L429.50,299.96L428.44,300.66L428.78,299.43L427.79,298.64L429.06,298.59ZM435.50,306.60L435.94,307.79L437.21,307.84L436.22,308.63L436.56,309.86L435.50,309.16L434.44,309.86L434.78,308.63L433.79,307.84L435.06,307.79ZM466.70,317.80L467.14,318.99L468.41,319.04L467.42,319.83L467.76,321.06L466.70,320.36L465.64,321.06L465.98,319.83L464.99,319.04L466.26,318.99Z" fill="#222" stroke="#222" stroke-width="0.3"/><path d="M291.9,231.3H296.4V236.9H299.6V240.3H300.2V244.6H300.8V251.3H301.1V257.7H301.2V263.7H304.5V270.0H304.5V276.4H308.2V283.3H308.9V289.5H309.7V295.7H310.4V301.3H313.5V310.4H314.2V317.1H314.9V323.5H316.5V330.3H327.8V337.1H333.5V344.3H343.0V351.1H368.5V361.9H374.2V372.6" stroke="#000" stroke-width="1.35" fill="none"/><path d="M341.8,342V344.3" stroke="#000" stroke-width="1"/><circle cx="296.4" cy="236.9" r="1.45" fill="#999" stroke="#000" stroke-width="1"/><circle cx="299.6" cy="240.3" r="1.45" fill="#999" stroke="#000" stroke-width="1"/><circle cx="300.2" cy="244.6" r="1.45" fill="#999" stroke="#000" stroke-width="1"/><circle cx="300.8" cy="251.3" r="1.45" fill="#999" stroke="#000" stroke-width="1"/><circle cx="301.1" cy="257.7" r="1.45" fill="#999" stroke="#000" stroke-width="1"/><circle cx="301.2" cy="263.7" r="1.45" fill="#999" stroke="#000" stroke-width="1"/><circle cx="304.5" cy="270.0" r="1.45" fill="#999" stroke="#000" stroke-width="1"/><circle cx="304.5" cy="276.4" r="1.45" fill="#999" stroke="#000" stroke-width="1"/><circle cx="308.2" cy="283.3" r="1.45" fill="#999" stroke="#000" stroke-width="1"/><circle cx="308.9" cy="289.5" r="1.45" fill="#999" stroke="#000" stroke-width="1"/><circle cx="309.7" cy="295.7" r="1.45" fill="#999" stroke="#000" stroke-width="1"/><circle cx="310.4" cy="301.3" r="1.45" fill="#999" stroke="#000" stroke-width="1"/><circle cx="313.5" cy="310.4" r="1.45" fill="#999" stroke="#000" stroke-width="1"/><circle cx="314.2" cy="317.1" r="1.45" fill="#999" stroke="#000" stroke-width="1"/><circle cx="314.9" cy="323.5" r="1.45" fill="#999" stroke="#000" stroke-width="1"/><circle cx="316.5" cy="330.3" r="1.45" fill="#999" stroke="#000" stroke-width="1"/><circle cx="327.8" cy="337.1" r="1.45" fill="#999" stroke="#000" stroke-width="1"/><circle cx="333.5" cy="344.3" r="1.45" fill="#999" stroke="#000" stroke-width="1"/><circle cx="343.0" cy="351.1" r="1.45" fill="#999" stroke="#000" stroke-width="1"/><circle cx="368.5" cy="361.9" r="1.45" fill="#999" stroke="#000" stroke-width="1"/><circle cx="374.2" cy="372.6" r="1.45" fill="#999" stroke="#000" stroke-width="1"/><text transform="translate(446.0,335.5) rotate(0.1) scale(0.945,1)" font-size="10.4" font-weight="bold"><tspan font-style="italic">P</tspan>&lt;0.0001</text>
</g>
</svg>
</body></html>
